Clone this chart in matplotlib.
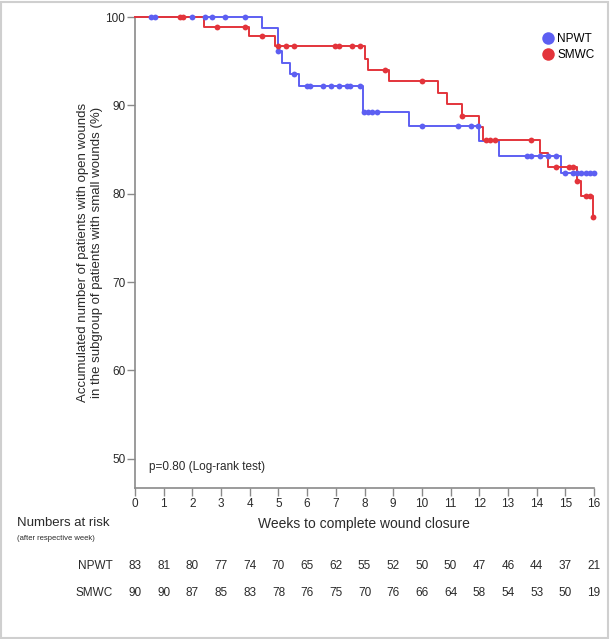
import matplotlib
matplotlib.use("Agg")
import matplotlib.pyplot as plt
import numpy as np
from matplotlib.patches import Rectangle
from matplotlib.transforms import blended_transform_factory
from matplotlib.lines import Line2D

plt.rcParams["font.family"] = ["Liberation Sans", "DejaVu Sans"]

# Kaplan-Meier step curves (weeks, % open wounds)
npwt_t = [0, 4.41, 4.99, 5.13, 5.42, 5.71, 7.96, 9.56, 12.0, 12.69, 14.84, 16.0]
npwt_s = [100, 98.8, 96.1, 94.8, 93.6, 92.2, 89.2, 87.7, 86.0, 84.3, 82.3, 82.3]
npwt_cens = [0.56, 0.70, 1.99, 2.43, 2.70, 3.14, 3.84, 5.00, 5.54, 5.98, 6.10,
             6.56, 6.84, 7.11, 7.39, 7.51, 7.84, 7.98, 8.13, 8.27, 8.42, 9.99,
             11.27, 11.70, 11.97, 13.68, 13.82, 14.11, 14.40, 14.69, 14.98,
             15.27, 15.41, 15.56, 15.71, 15.85, 16.0]

smwc_t = [0, 2.40, 3.98, 4.88, 8.01, 8.13, 8.85, 10.57, 10.86, 11.39, 11.99,
          12.14, 14.11, 14.40, 15.40, 15.56, 15.96, 16.0]
smwc_s = [100, 98.9, 97.8, 96.7, 95.3, 94.0, 92.8, 91.4, 90.1, 88.8, 87.5,
          86.1, 84.6, 83.0, 81.4, 79.7, 77.4, 77.4]
smwc_cens = [1.57, 1.68, 2.85, 3.84, 4.42, 4.99, 5.28, 5.55, 6.97, 7.11, 7.55,
             7.84, 8.71, 9.99, 11.40, 12.25, 12.39, 12.54, 13.82, 14.69, 15.12,
             15.27, 15.41, 15.71, 15.85, 15.97]

weeks = list(range(17))
risk_npwt = [83, 81, 80, 77, 74, 70, 65, 62, 55, 52, 50, 50, 47, 46, 44, 37, 21]
risk_smwc = [90, 90, 87, 85, 83, 78, 76, 75, 70, 76, 66, 64, 58, 54, 53, 50, 19]

BLUE = "#5d5ff2"
RED = "#e3343b"
TEXT = "#2a2a2a"


def step_value(times, surv, t):
    idx = np.searchsorted(times, t, side="right") - 1
    return np.asarray(surv)[idx]


fig = plt.figure(figsize=(6.10, 6.39), dpi=100)
ax = fig.add_axes([135 / 610, 1 - 488 / 639, (594 - 135) / 610, (488 - 17) / 639])

for t, s, cens, color in [(npwt_t, npwt_s, npwt_cens, BLUE),
                          (smwc_t, smwc_s, smwc_cens, RED)]:
    ax.step(t, s, where="post", color=color, lw=1.4, clip_on=False, zorder=3)
    ax.plot(cens, step_value(t, s, cens), "o", color=color, ms=4.2,
            mec="none", clip_on=False, zorder=4)

ax.set_xlim(0, 16)
ax.set_ylim(46.7, 100)
ax.set_xticks(weeks)
ax.set_yticks([50, 60, 70, 80, 90, 100])
for side in ("top", "right"):
    ax.spines[side].set_visible(False)
for side in ("left", "bottom"):
    ax.spines[side].set_color("#8a8a8a")
    ax.spines[side].set_linewidth(1.2)
ax.tick_params(colors="#8a8a8a", labelcolor=TEXT, labelsize=8.5,
               length=5.5, width=1, pad=1.5)

ax.set_ylabel("Accumulated number of patients with open wounds\n"
              "in the subgroup of patients with small wounds (%)",
              fontsize=9.5, color=TEXT, labelpad=2, linespacing=1.2)

ax.text(0.5, 49.1, "p=0.80 (Log-rank test)", fontsize=8.5, color=TEXT,
        va="center")

handles = [Line2D([], [], ls="none", marker="o", ms=9, color=BLUE, mec="none"),
           Line2D([], [], ls="none", marker="o", ms=9, color=RED, mec="none")]
fig.legend(handles, ["NPWT", "SMWC"], loc="upper left",
           bbox_to_anchor=(537 / 610, 1 - 27 / 639), frameon=False,
           fontsize=8.5, handlelength=0.8, handletextpad=0.4,
           labelspacing=0.35, borderpad=0)

trans = blended_transform_factory(ax.transData, fig.transFigure)
fig.text(364 / 610, 1 - 524 / 639, "Weeks to complete wound closure",
         fontsize=10, color=TEXT, ha="center", va="center")
fig.text(17 / 610, 1 - 523 / 639, "Numbers at risk", fontsize=9.5,
         color=TEXT, va="center")
fig.text(17 / 610, 1 - 538 / 639, "(after respective week)", fontsize=5.5,
         color=TEXT, va="center")

for label, risks, ypx in [("NPWT", risk_npwt, 566), ("SMWC", risk_smwc, 593)]:
    y = 1 - ypx / 639
    fig.text(113 / 610, y, label, fontsize=8.5, color=TEXT,
             ha="right", va="center")
    for w, n in zip(weeks, risks):
        ax.text(w, y, str(n), transform=trans, fontsize=8.5, color=TEXT,
                ha="center", va="center")

fig.patches.append(Rectangle((0.002, 0.002), 0.995, 0.995,
                             transform=fig.transFigure, fill=False,
                             edgecolor="#cfcfcf", lw=1.5))

fig.savefig("out.png", dpi=100, facecolor="white")
